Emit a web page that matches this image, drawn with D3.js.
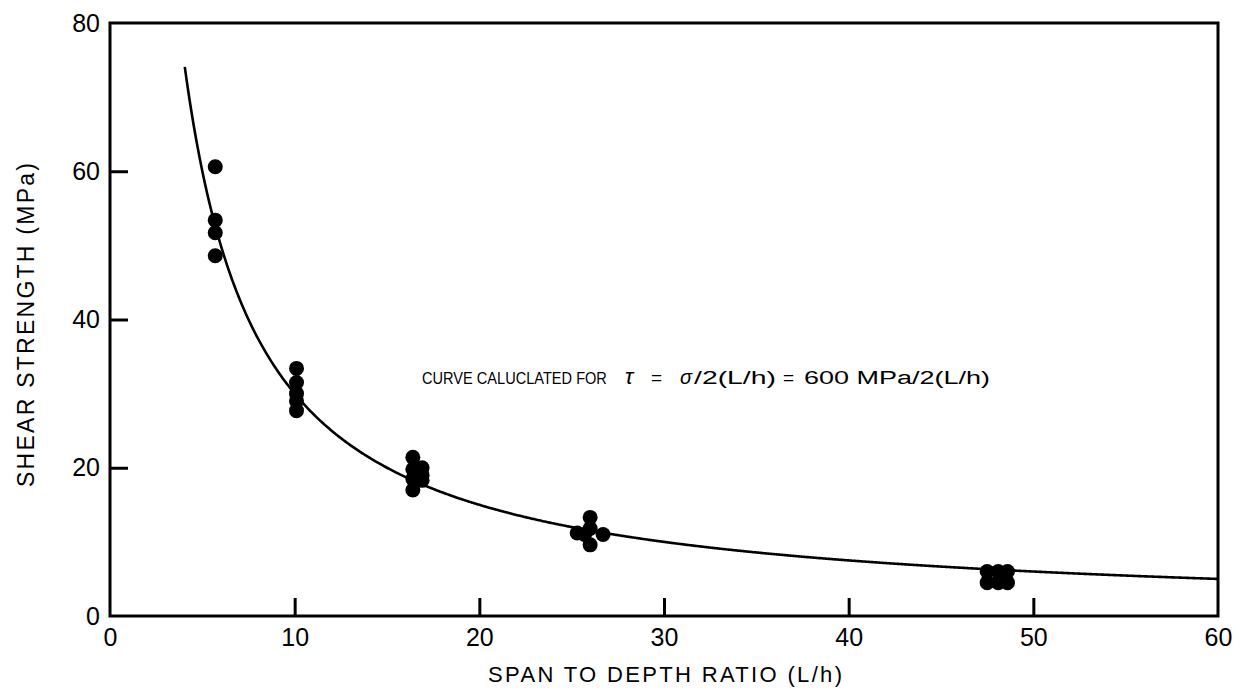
<!DOCTYPE html>
<html>
<head>
<meta charset="utf-8">
<script src="https://cdn.jsdelivr.net/npm/d3@7/dist/d3.min.js"></script>
<style>
  html, body { margin: 0; padding: 0; background: #fff; }
  svg { display: block; }
  text { font-family: "Liberation Sans", Arial, Helvetica, sans-serif; fill: #000; }
</style>
</head>
<body>
<svg id="chart" width="1240" height="694"></svg>
<script>
// Measured shear strength (MPa) against span-to-depth ratio L/h
const spanRatio = [
  5.7, 5.7, 5.7, 5.7,
  10.1, 10.1, 10.1, 10.1, 10.1,
  16.4, 16.4, 16.4, 16.4, 16.9, 16.9, 16.9,
  26.0, 26.0, 26.0, 25.3, 26.7, 25.7,
  47.5, 47.5, 48.1, 48.1, 48.6, 48.6
];
const shearStrength = [
  60.6, 53.4, 51.7, 48.6,
  33.4, 31.5, 30.0, 29.0, 27.7,
  21.4, 19.8, 18.5, 17.0, 20.0, 19.0, 18.3,
  13.3, 11.8, 9.6, 11.2, 11.0, 11.0,
  6.0, 4.5, 6.0, 4.5, 6.0, 4.5
];
const xTicks = [0, 10, 20, 30, 40, 50, 60];
const yTicks = [0, 20, 40, 60, 80];

// Calculated curve: tau = sigma / 2(L/h), sigma = 600 MPa
const sigma = 600;
const curveStart = 4.05, curveEnd = 60;

const margin = { left: 110, right: 22, top: 23, bottom: 78 };
const width = 1240, height = 694;

const svg = d3.select("#chart");

const x = d3.scaleLinear().domain([0, 60]).range([margin.left, width - margin.right]);
const y = d3.scaleLinear().domain([0, 80]).range([height - margin.bottom, margin.top]);

const tickLen = 18;

// Bottom axis: ticks point into the plot
const xAxis = d3.axisBottom(x).tickValues(xTicks).tickSize(-tickLen).tickPadding(12).tickFormat(d3.format("d"));
const gx = svg.append("g").attr("transform", `translate(0,${y(0)})`).call(xAxis);
gx.select(".domain").remove();
gx.selectAll(".tick line").attr("stroke", "#000").attr("stroke-width", 3);
gx.selectAll(".tick text").attr("font-size", 25).attr("font-family", "Liberation Sans, Arial, sans-serif").attr("dy", "0.71em");
gx.selectAll(".tick").filter(d => d === 0 || d === 60).select("line").remove();

// Left axis: ticks point into the plot
const yAxis = d3.axisLeft(y).tickValues(yTicks).tickSize(-tickLen).tickPadding(10).tickFormat(d3.format("d"));
const gy = svg.append("g").attr("transform", `translate(${x(0)},0)`).call(yAxis);
gy.select(".domain").remove();
gy.selectAll(".tick line").attr("stroke", "#000").attr("stroke-width", 3);
gy.selectAll(".tick text").attr("font-size", 25).attr("font-family", "Liberation Sans, Arial, sans-serif");
gy.selectAll(".tick").filter(d => d === 0 || d === 80).select("line").remove();

// Frame around the plot
svg.append("rect")
  .attr("x", x(0)).attr("y", y(80))
  .attr("width", x(60) - x(0)).attr("height", y(0) - y(80))
  .attr("fill", "none").attr("stroke", "#000").attr("stroke-width", 3);

// Calculated curve
const curveX = d3.range(curveStart, curveEnd + 0.001, 0.1);
const line = d3.line().x(d => x(d)).y(d => y(sigma / (2 * d))).curve(d3.curveMonotoneX);
svg.append("path")
  .datum(curveX)
  .attr("d", line)
  .attr("fill", "none").attr("stroke", "#000").attr("stroke-width", 2.6);

// Measured points
svg.append("g").selectAll("circle")
  .data(spanRatio.map((d, i) => [d, shearStrength[i]]))
  .join("circle")
  .attr("cx", d => x(d[0]))
  .attr("cy", d => y(d[1]))
  .attr("r", 7.5)
  .attr("fill", "#000");

// Axis titles
svg.append("text")
  .attr("x", 665).attr("y", 682)
  .attr("text-anchor", "middle").attr("font-size", 22)
  .attr("textLength", 354).attr("lengthAdjust", "spacing")
  .text("SPAN TO DEPTH RATIO (L/h)");

svg.append("text")
  .attr("transform", "translate(34,325) rotate(-90)")
  .attr("text-anchor", "middle").attr("font-size", 23)
  .attr("textLength", 324).attr("lengthAdjust", "spacing")
  .text("SHEAR STRENGTH (MPa)");

// Curve annotation, set piece by piece; each multi-character piece is
// scaled horizontally to its slot (condensed words, wide formula)
const serif = "Liberation Serif, Times New Roman, serif";
const noteY = 384;
const pieces = [
  { t: "CURVE CALUCLATED FOR", x0: 422, x1: 607, size: 17 },
  { t: "τ", x0: 625, x1: 638, size: 22, italic: true },
  { t: "=", x0: 651, x1: 665, size: 19 },
  { t: "σ", x0: 680, x1: 692, size: 20, italic: true },
  { t: "/2(L/h)", x0: 694, x1: 776, size: 18 },
  { t: "=", x0: 783, x1: 797, size: 19 },
  { t: "600 MPa/2(L/h)", x0: 804, x1: 990, size: 18 }
];
const note = svg.append("g");
pieces.forEach(p => {
  const g = note.append("g").attr("transform", `translate(${p.x0},${noteY})`);
  const t = g.append("text")
    .attr("font-size", p.size)
    .attr("font-family", p.italic ? serif : null)
    .attr("font-style", p.italic ? "italic" : null)
    .text(p.t);
  if (p.t.length > 1) {
    const natural = t.node().getComputedTextLength();
    t.attr("transform", `scale(${(p.x1 - p.x0) / natural},1)`);
  }
});
</script>
</body>
</html>
